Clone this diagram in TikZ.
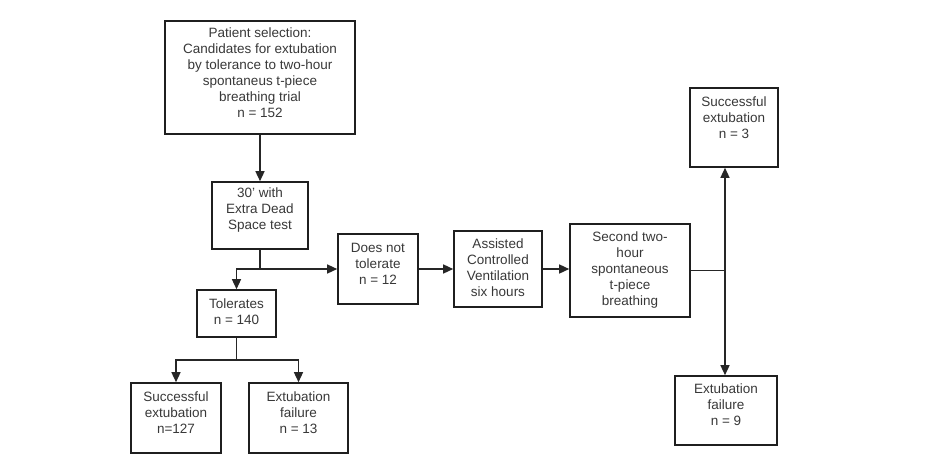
\documentclass[tikz,border=0pt]{standalone}
\usepackage{fontspec}
\setmainfont{Liberation Sans}
\usetikzlibrary{arrows.meta,calc}
\begin{document}
\begin{tikzpicture}[x=1pt,y=-1pt,
  box/.style={draw=black!88,line width=1.6pt,rectangle,inner sep=0pt},
  txt/.style={align=center,text=black!78,inner sep=0pt,font=\fontsize{13.5pt}{16pt}\selectfont},
  conn/.style={draw=black!85,line width=1.4pt},
  arr/.style={conn,-{Triangle[length=10pt,width=9pt]}}]
\useasboundingbox (0,0) rectangle (934,472);
% boxes
\node[box,minimum width=190pt,minimum height=113pt] (sel) at (260,77.5) {};
\node[box,minimum width=96pt,minimum height=67pt] (test) at (260,215.5) {};
\node[box,minimum width=79pt,minimum height=47pt] (tol) at (236.5,313.5) {};
\node[box,minimum width=90pt,minimum height=70pt] (succ1) at (176,418) {};
\node[box,minimum width=99pt,minimum height=70pt] (fail1) at (298.5,418) {};
\node[box,minimum width=80pt,minimum height=70pt] (dnt) at (378,269) {};
\node[box,minimum width=88pt,minimum height=76pt] (acv) at (498,269) {};
\node[box,minimum width=120pt,minimum height=93pt] (second) at (630,270.5) {};
\node[box,minimum width=88pt,minimum height=79pt] (succ2) at (734,127.5) {};
\node[box,minimum width=102pt,minimum height=69pt] (fail2) at (726,410.5) {};
% texts
\node[txt] (selt) at ([yshift=5pt]sel.center) {Patient selection:\\Candidates for extubation\\by tolerance to two-hour\\spontaneus t-piece\\breathing trial\\n = 152};
\node[txt] (testt) at ([yshift=5pt]test.center) {30' with\\Extra Dead\\Space test};
\node[txt] (tolt) at ([yshift=2pt]tol.center) {Tolerates\\n = 140};
\node[txt] (succ1t) at ([yshift=5.5pt]succ1.center) {Successful\\extubation\\n=127};
\node[txt] (fail1t) at ([yshift=5.5pt]fail1.center) {Extubation\\failure\\n = 13};
\node[txt] (dntt) at ([yshift=5pt]dnt.center) {Does not\\tolerate\\n = 12};
\node[txt] (acvt) at ([yshift=1pt]acv.center) {Assisted\\Controlled\\Ventilation\\six hours};
\node[txt] (secondt) at (second.center) {Second two-\\hour\\spontaneous\\t-piece\\breathing};
\node[txt] (succ2t) at ([yshift=9.5pt]succ2.center) {Successful\\extubation\\n = 3};
\node[txt] (fail2t) at ([yshift=5.5pt]fail2.center) {Extubation\\failure\\n = 9};
% junctions
\coordinate (j1) at (260,269);
\coordinate (j3) at (236.5,360);
\coordinate (j2) at (725,270.5);
% connectors
\draw[arr] (sel.south) -- (test.north);
\draw[conn] (test.south) -- (j1);
\draw[arr] (j1) -| (tol.north);
\draw[arr] (j1) -- (dnt.west);
\draw[arr] (dnt.east) -- (acv.west);
\draw[arr] (acv.east) -- (acv.east -| second.west);
\draw[conn] (second.east) -- (j2);
\draw[arr] (j2) -- (j2 |- succ2.south);
\draw[arr] (j2) -- (j2 |- fail2.north);
\draw[conn] (tol.south) -- (j3);
\draw[arr] (j3) -| (succ1.north);
\draw[arr] (j3) -| (fail1.north);
\end{tikzpicture}
\end{document}
